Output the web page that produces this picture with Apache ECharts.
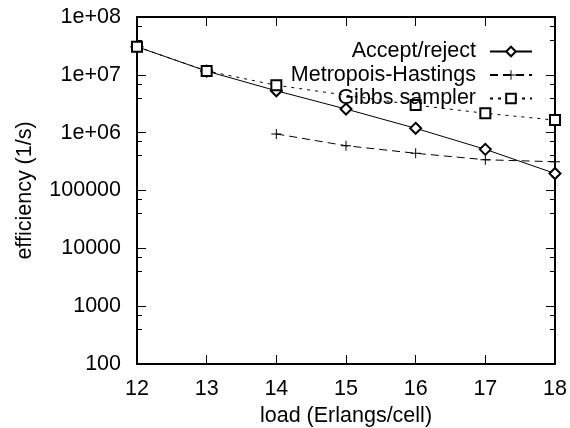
<!DOCTYPE html>
<html><head><meta charset="utf-8">
<script src="https://cdn.jsdelivr.net/npm/echarts@6/dist/echarts.min.js"></script>
<style>html,body{margin:0;padding:0;background:#fff}#c{width:570px;height:428px}</style>
</head><body><div id="c"></div><script>
const loads = [12, 13, 14, 15, 16, 17, 18];
const acceptReject = [3.06e7, 1.16e7, 5.3e6, 2.56e6, 1.19e6, 5.15e5, 1.97e5];
const metropolisHastings = [null, null, 9.5e5, 5.95e5, 4.4e5, 3.4e5, 3.14e5];
const gibbsSampler = [3.06e7, 1.17e7, 6.6e6, null, 3.0e6, 2.16e6, 1.65e6];
const seriesNames = ['Accept/reject', 'Metropois-Hastings', 'Gibbs sampler'];
const xTickLabels = ['12', '13', '14', '15', '16', '17', '18'];
const yTickLabels = ['100', '1000', '10000', '100000', '1e+06', '1e+07', '1e+08'];

const FONT = '"Liberation Sans", Arial, sans-serif';
const FS = 21.5;
const pairs = arr => loads.map((x, i) => [x, arr[i]]);
const plusPath = 'path://M4.5,0H5.5V10H4.5Z M0,4.5H10V5.5H0Z';

const axisLine = { show: true, lineStyle: { color: '#000', width: 2 } };
const chart = echarts.init(document.getElementById('c'), null, { renderer: 'canvas' });
chart.setOption({
  animation: false,
  backgroundColor: '#fff',
  grid: { left: 137, right: 15, top: 17, bottom: 64, containLabel: false, outerBoundsMode: 'none' },
  legend: {
    orient: 'vertical',
    right: 37,
    top: 40.5,
    padding: 0,
    align: 'right',
    itemWidth: 42,
    itemHeight: 12,
    itemGap: 1.5,
    textStyle: { fontFamily: FONT, fontSize: FS, color: '#000', lineHeight: 22, padding: [0, 9, 0, 0] },
    data: seriesNames
  },
  xAxis: [{
    type: 'value', min: 12, max: 18, interval: 1, position: 'bottom',
    axisLine: axisLine,
    axisTick: { show: true, inside: true, length: 9, lineStyle: { color: '#000', width: 1 } },
    splitLine: { show: false },
    axisLabel: { fontFamily: FONT, fontSize: FS, color: '#000', margin: 14,
      formatter: v => xTickLabels[loads.indexOf(v)] },
    name: 'load (Erlangs/cell)', nameLocation: 'middle', nameGap: 38,
    nameTextStyle: { fontFamily: FONT, fontSize: FS, color: '#000' }
  }, {
    type: 'value', min: 12, max: 18, interval: 1, position: 'top',
    axisLine: axisLine,
    axisTick: { show: true, inside: true, length: 9, lineStyle: { color: '#000', width: 1 } },
    splitLine: { show: false },
    axisLabel: { show: false }
  }],
  yAxis: [{
    type: 'log', logBase: 10, min: 100, max: 1e8, position: 'left',
    axisLine: axisLine,
    axisTick: { show: true, inside: true, length: 9, lineStyle: { color: '#000', width: 1 } },
    minorTick: { show: true, splitNumber: 3, length: 5, lineStyle: { color: '#000', width: 1 } },
    splitLine: { show: false },
    axisLabel: { fontFamily: FONT, fontSize: FS, color: '#000', margin: 16,
      formatter: v => yTickLabels[Math.round(Math.log10(v)) - 2] },
    name: 'efficiency (1/s)', nameLocation: 'middle', nameGap: 101,
    nameTextStyle: { fontFamily: FONT, fontSize: FS, color: '#000' }
  }, {
    type: 'log', logBase: 10, min: 100, max: 1e8, position: 'right',
    axisLine: axisLine,
    axisTick: { show: true, inside: true, length: 9, lineStyle: { color: '#000', width: 1 } },
    minorTick: { show: true, splitNumber: 3, length: 5, lineStyle: { color: '#000', width: 1 } },
    splitLine: { show: false },
    axisLabel: { show: false }
  }],
  series: [{
    name: seriesNames[0], type: 'line', data: pairs(acceptReject),
    symbol: 'emptyDiamond', symbolSize: 11,
    itemStyle: { color: '#000', borderWidth: 1 },
    lineStyle: { color: '#000', width: 1, type: 'solid' }
  }, {
    name: seriesNames[1], type: 'line', data: pairs(metropolisHastings),
    symbol: plusPath, symbolSize: 10,
    itemStyle: { color: '#000' },
    lineStyle: { color: '#000', width: 1, type: [8, 5] }
  }, {
    name: seriesNames[2], type: 'line', data: pairs(gibbsSampler), connectNulls: true,
    symbol: 'emptyRect', symbolSize: 10,
    itemStyle: { color: '#000', borderWidth: 1 },
    lineStyle: { color: '#000', width: 1, type: [3, 5] }
  }]
});
</script></body></html>
